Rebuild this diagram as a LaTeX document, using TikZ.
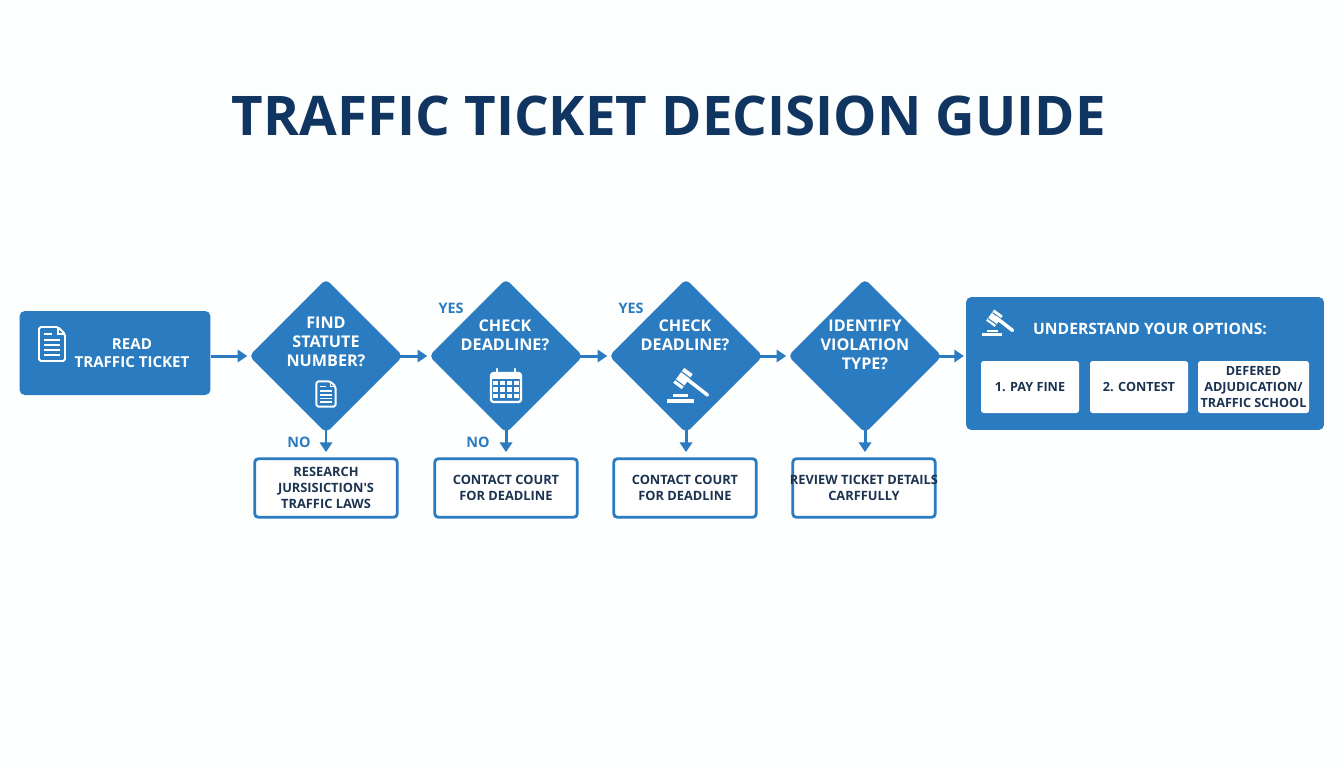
\documentclass[tikz,border=0pt]{standalone}
\usepackage{fontspec}
\setmainfont{Open Sans}
\usetikzlibrary{arrows.meta,shapes.geometric}
\definecolor{tblue}{HTML}{2A7BBF}
\definecolor{tnavy}{HTML}{0F3560}
\definecolor{tink}{HTML}{1B3350}
\definecolor{tback}{HTML}{FDFEFE}
\tikzset{
  solidbox/.style={draw=none, fill=tblue, rounded corners=3pt, inner sep=0pt},
  query/.style={shape=diamond, aspect=1, fill=tblue, inner sep=0pt, outer sep=0pt,
    minimum width=3.08cm, minimum height=3.08cm, rounded corners=3pt},
  querytxt/.style={text=white, align=center, font=\fontsize{9.2}{10.9}\selectfont\bfseries},
  notebox/.style={draw=tblue, line width=1.6pt, fill=white, rounded corners=2pt,
    minimum width=2.85cm, minimum height=1.17cm, inner sep=0pt, text=tink, align=center,
    font=\fontsize{7.3}{9}\selectfont\bfseries},
  optbox/.style={fill=white, rounded corners=1.5pt, inner sep=0pt, minimum height=1.04cm,
    text=tink, align=center, font=\fontsize{7.2}{9}\selectfont\bfseries},
  tag/.style={text=tblue, font=\fontsize{8.2}{10}\selectfont\bfseries},
  flow/.style={draw=tblue, line width=1.7pt, -{Triangle[length=5.5pt,width=7pt]}, shorten >=1pt},
  docicon/.pic={
    \draw[white, line width=1.1pt, line join=round, rounded corners=1pt, fill=tblue]
      (-13,-17) -- (6,-17) -- (13,-10) -- (13,17) -- (-13,17) -- cycle;
    \draw[white, line width=0.8pt] (6,-17) -- (6,-10) -- (13,-10);
    \draw[white, line width=0.9pt] (-8,-10) -- (0,-10);
    \foreach \yy in {-4,1,6,11}
      \draw[white, line width=0.9pt] (-8,\yy) -- (8,\yy);
  },
  calicon/.pic={
    \draw[white, line width=1.3pt, rounded corners=1.5pt] (-15,-13) rectangle (15,16);
    \fill[white] (-15,-13) rectangle (15,-7);
    \foreach \xx in {-9,9}
      \draw[white, line width=1.5pt, line cap=round] (\xx,-17) -- (\xx,-11);
    % day squares
    \foreach \xx in {-10.5,-3.5,3.5,10.5}
      \foreach \yy in {-3,3.5,10}
        \fill[white] (\xx-2.4,\yy-2.4) rectangle (\xx+2.4,\yy+2.4);
  },
  gavelicon/.pic={
    \draw[white, line width=6pt] (-9,1) -- (2,-14);
    \draw[tblue, line width=0.6pt] (-12,-6) -- (-1,2);
    \draw[tblue, line width=0.6pt] (-6,-14) -- (5,-6);
    \draw[white, line width=2pt, line cap=round] (-1,-7) -- (21,10);
    \fill[white] (-14,9) rectangle (1,12);
    \fill[white] (-20,14) rectangle (7,18);
  }
}
\begin{document}
\begin{tikzpicture}[x=0.02cm, y=-0.02cm]
  \fill[tback] (0,0) rectangle (1344,768);
  \useasboundingbox (0,0) rectangle (1344,768);
  \node[text=tnavy, font=\fontsize{31.1}{38}\selectfont\bfseries] (title) at (669,116)
    {TRAFFIC TICKET DECISION GUIDE};

  % start
  \node[solidbox, minimum width=3.82cm, minimum height=1.68cm] (read) at (115,353) {};
  \node[querytxt, font=\fontsize{8.6}{10.6}\selectfont\bfseries] (readtxt) at (132,353)
    {READ\\TRAFFIC TICKET};
  \pic at (52,344) {docicon};

  % questions
  \foreach \qq/\qx in {1/326,2/506,3/686,4/865}
    \node[query] (q\qq) at (\qx,356) {};
  \node[querytxt] (q1txt) at (326,342) {FIND\\STATUTE\\NUMBER?};
  \node[querytxt] (q2txt) at (505,335) {CHECK\\DEADLINE?};
  \node[querytxt] (q3txt) at (685,335) {CHECK\\DEADLINE?};
  \node[querytxt] (q4txt) at (865,345) {IDENTIFY\\VIOLATION\\TYPE?};
  \pic[scale=0.74] at (326,394) {docicon};
  \pic at (506,386) {calicon};
  \pic at (686.5,385) {gavelicon};

  % fall back boxes
  \node[notebox] (n1) at (326,488) {RESEARCH\\JURSISICTION\textquotesingle S\\TRAFFIC LAWS};
  \node[notebox] (n2) at (506,488) {CONTACT COURT\\FOR DEADLINE};
  \node[notebox] (n3) at (685,488) {CONTACT COURT\\FOR DEADLINE};
  \node[notebox] (n4) at (864,488) {\makebox[0pt]{REVIEW TICKET DETAILS}\\CARFFULLY};

  % options
  \node[solidbox, minimum width=7.16cm, minimum height=2.66cm] (opts) at (1145,363.5) {};
  \node[querytxt, font=\fontsize{8.9}{11}\selectfont\bfseries] (optstxt) at (1150,329)
    {UNDERSTAND YOUR OPTIONS:};
  \pic[scale=0.74] at (997,323) {gavelicon};
  \node[optbox, minimum width=1.96cm] (o1) at (1030,387) {1. PAY FINE};
  \node[optbox, minimum width=1.96cm] (o2) at (1139,387) {2. CONTEST};
  \node[optbox, minimum width=2.22cm] (o3) at (1253.5,387) {DEFERED\\ADJUDICATION/\\TRAFFIC SCHOOL};

  % connectors
  \draw[flow] (read.east |- q1.west) -- (q1.west);
  \draw[flow, shorten <=-2pt] (q1.east) -- (q2.west);
  \draw[flow, shorten <=-2pt] (q2.east) -- (q3.west);
  \draw[flow, shorten <=-2pt] (q3.east) -- (q4.west);
  \draw[flow, shorten <=-2pt] (q4.east) -- (opts.west |- q4.east);
  \foreach \qq in {1,...,4}
    \draw[flow, shorten <=-2pt, shorten >=3pt] (q\qq.south) -- (n\qq.north -| q\qq.south);

  \node[tag] (yes1) at (451,308) {YES};
  \node[tag] (yes2) at (631,308) {YES};
  \node[tag] (no1) at (299,442) {NO};
  \node[tag] (no2) at (478,442) {NO};
\end{tikzpicture}
\end{document}
